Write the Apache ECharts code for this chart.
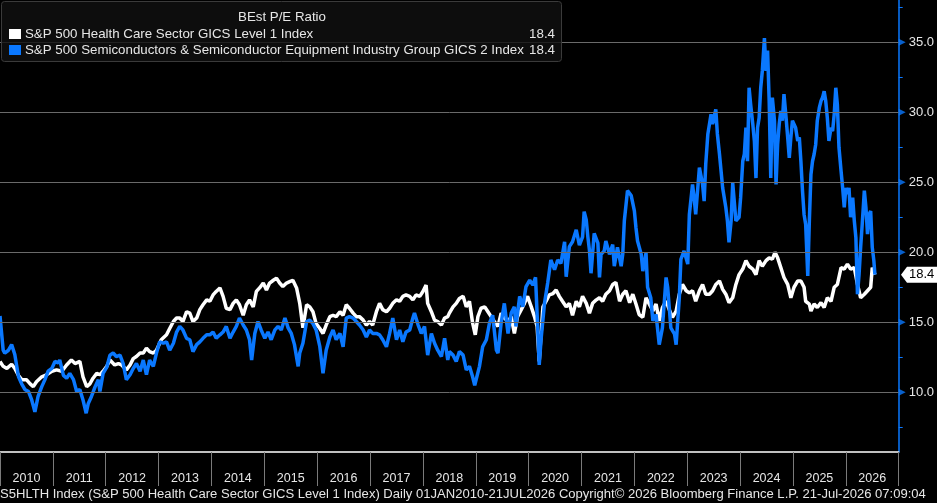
<!DOCTYPE html>
<html><head><meta charset="utf-8">
<script src="https://cdn.jsdelivr.net/npm/echarts@6/dist/echarts.min.js"></script>
<style>html,body{margin:0;padding:0;background:#000;overflow:hidden}#c{width:937px;height:503px}</style>
</head><body><div id="c"></div>
<script>
// ---- DATA ----
const chartTitle = 'BEst P/E Ratio';
const healthName = 'S&P 500 Health Care Sector GICS Level 1 Index';
const semiName = 'S&P 500 Semiconductors & Semiconductor Equipment Industry Group GICS 2 Index';
const footerText = 'S5HLTH Index (S&P 500 Health Care Sector GICS Level 1 Index) Daily 01JAN2010-21JUL2026 Copyright\u00A9 2026 Bloomberg Finance L.P. 21-Jul-2026 07:09:04';

const healthYears = [2010.00,2010.06,2010.13,2010.22,2010.28,2010.35,2010.41,2010.50,2010.57,2010.63,2010.69,2010.79,2010.88,2010.98,2011.07,2011.17,2011.26,2011.35,2011.42,2011.51,2011.57,2011.64,2011.70,2011.76,2011.83,2011.89,2011.95,2012.02,2012.08,2012.17,2012.24,2012.30,2012.39,2012.46,2012.52,2012.58,2012.65,2012.71,2012.77,2012.83,2012.90,2012.96,2013.05,2013.15,2013.21,2013.28,2013.34,2013.40,2013.46,2013.53,2013.59,2013.65,2013.72,2013.78,2013.84,2013.91,2013.97,2014.03,2014.09,2014.16,2014.22,2014.28,2014.35,2014.41,2014.47,2014.53,2014.60,2014.66,2014.72,2014.79,2014.85,2014.91,2014.98,2015.04,2015.10,2015.17,2015.23,2015.29,2015.35,2015.42,2015.48,2015.54,2015.61,2015.67,2015.73,2015.80,2015.86,2015.92,2015.98,2016.05,2016.11,2016.17,2016.24,2016.30,2016.36,2016.43,2016.49,2016.55,2016.61,2016.68,2016.74,2016.80,2016.87,2016.93,2016.99,2017.05,2017.12,2017.18,2017.24,2017.31,2017.37,2017.43,2017.50,2017.56,2017.62,2017.68,2017.75,2017.81,2017.87,2017.94,2018.00,2018.06,2018.09,2018.16,2018.22,2018.28,2018.35,2018.41,2018.47,2018.50,2018.57,2018.63,2018.69,2018.76,2018.82,2018.88,2018.94,2018.99,2019.04,2019.10,2019.17,2019.23,2019.29,2019.35,2019.42,2019.48,2019.54,2019.61,2019.67,2019.73,2019.79,2019.86,2019.92,2019.98,2020.05,2020.11,2020.16,2020.20,2020.27,2020.33,2020.39,2020.46,2020.52,2020.58,2020.64,2020.71,2020.77,2020.83,2020.90,2020.96,2021.02,2021.09,2021.15,2021.21,2021.28,2021.34,2021.40,2021.46,2021.53,2021.59,2021.65,2021.72,2021.78,2021.84,2021.91,2021.97,2022.03,2022.09,2022.16,2022.22,2022.28,2022.35,2022.41,2022.47,2022.53,2022.60,2022.66,2022.72,2022.79,2022.85,2022.91,2022.98,2023.04,2023.10,2023.16,2023.23,2023.29,2023.35,2023.42,2023.48,2023.54,2023.61,2023.67,2023.73,2023.79,2023.86,2023.92,2023.98,2024.05,2024.11,2024.17,2024.24,2024.30,2024.36,2024.42,2024.49,2024.55,2024.61,2024.66,2024.71,2024.77,2024.83,2024.90,2024.96,2025.02,2025.09,2025.15,2025.21,2025.24,2025.31,2025.34,2025.40,2025.46,2025.53,2025.59,2025.65,2025.72,2025.78,2025.84,2025.91,2025.97,2026.03,2026.09,2026.16,2026.22,2026.28,2026.35,2026.41,2026.47,2026.50,2026.55];
const healthValues = [12.2,11.85,11.7,12.0,11.7,11.2,10.9,10.9,10.6,10.4,10.75,11.1,11.25,11.5,11.6,11.5,11.95,12.3,12.05,12.2,11.1,10.4,10.6,11.0,11.35,11.25,11.5,11.85,12.3,11.95,12.05,11.95,11.6,11.95,12.4,12.55,12.8,12.8,13.15,12.9,12.8,13.0,13.75,14.1,14.55,15.05,15.3,15.3,15.05,15.75,15.65,15.05,15.3,15.9,16.25,16.6,16.5,16.95,17.2,17.45,16.85,16.0,15.9,16.35,16.6,16.25,15.5,16.25,16.6,16.1,17.2,17.45,17.8,17.3,17.8,18.0,18.15,17.8,17.55,17.8,17.9,18.0,17.45,16.35,14.6,16.25,16.1,15.75,14.9,14.55,14.2,14.8,15.4,15.5,15.4,15.75,15.5,16.25,16.0,15.65,15.4,15.4,15.15,14.8,15.05,14.8,15.75,16.35,15.9,15.75,16.0,16.35,16.6,16.5,16.85,16.95,16.85,16.6,16.95,16.85,17.2,17.65,16.35,15.75,15.15,15.05,14.8,15.3,15.4,15.65,16.1,16.35,16.7,16.85,16.1,16.5,14.95,14.1,15.4,16.0,16.1,15.75,15.4,15.05,14.7,15.65,15.3,15.05,15.4,14.2,15.4,15.9,16.35,16.85,16.1,15.4,14.7,12.2,16.1,16.5,16.95,17.05,17.3,16.85,16.5,16.1,16.35,15.5,16.5,16.1,16.85,16.35,15.65,16.35,16.6,16.75,16.5,17.0,17.25,17.7,17.85,16.5,17.0,17.25,16.4,17.0,16.3,15.55,15.35,16.75,16.3,15.8,16.3,15.1,16.05,16.5,15.9,15.35,15.8,17.0,17.7,17.25,17.1,17.25,16.5,17.25,17.7,17.0,17.0,17.25,17.7,17.95,17.35,17.0,16.4,16.75,17.7,18.4,18.8,19.4,19.0,18.8,18.4,19.4,19.0,19.4,19.6,19.5,20.0,19.6,18.9,18.2,17.7,16.75,17.5,17.95,17.95,17.5,16.5,16.3,15.8,16.3,16.05,16.4,16.05,16.75,16.5,17.5,17.7,18.9,18.8,19.15,18.8,18.9,17.7,16.75,17.0,17.25,17.5,18.9,18.4];

const semiYears = [2010.00,2010.03,2010.06,2010.09,2010.16,2010.22,2010.28,2010.35,2010.41,2010.47,2010.54,2010.60,2010.66,2010.72,2010.79,2010.85,2010.91,2010.98,2011.04,2011.10,2011.13,2011.20,2011.26,2011.32,2011.39,2011.45,2011.51,2011.57,2011.63,2011.67,2011.73,2011.80,2011.86,2011.89,2011.95,2012.02,2012.08,2012.14,2012.20,2012.27,2012.33,2012.39,2012.46,2012.52,2012.58,2012.65,2012.71,2012.77,2012.83,2012.90,2012.96,2013.02,2013.09,2013.15,2013.21,2013.28,2013.34,2013.40,2013.46,2013.53,2013.59,2013.65,2013.72,2013.78,2013.84,2013.91,2013.97,2014.03,2014.09,2014.16,2014.22,2014.28,2014.35,2014.41,2014.47,2014.53,2014.60,2014.66,2014.72,2014.76,2014.82,2014.88,2014.94,2015.01,2015.07,2015.13,2015.20,2015.26,2015.32,2015.39,2015.45,2015.51,2015.57,2015.64,2015.67,2015.73,2015.80,2015.86,2015.92,2015.98,2016.05,2016.11,2016.17,2016.24,2016.30,2016.36,2016.43,2016.49,2016.55,2016.61,2016.68,2016.74,2016.80,2016.87,2016.93,2016.99,2017.05,2017.12,2017.18,2017.24,2017.31,2017.37,2017.43,2017.50,2017.56,2017.62,2017.68,2017.75,2017.81,2017.84,2017.91,2017.97,2018.03,2018.09,2018.16,2018.22,2018.28,2018.35,2018.41,2018.47,2018.50,2018.57,2018.63,2018.69,2018.76,2018.82,2018.88,2018.94,2018.98,2019.01,2019.07,2019.13,2019.20,2019.26,2019.32,2019.39,2019.42,2019.48,2019.54,2019.61,2019.67,2019.73,2019.76,2019.83,2019.89,2019.95,2020.02,2020.08,2020.13,2020.17,2020.20,2020.24,2020.30,2020.36,2020.42,2020.49,2020.55,2020.61,2020.68,2020.71,2020.77,2020.83,2020.90,2020.96,2021.02,2021.05,2021.09,2021.12,2021.15,2021.18,2021.24,2021.31,2021.34,2021.37,2021.43,2021.46,2021.53,2021.59,2021.62,2021.68,2021.75,2021.78,2021.81,2021.87,2021.94,2022.00,2022.03,2022.06,2022.13,2022.16,2022.22,2022.25,2022.31,2022.35,2022.41,2022.47,2022.53,2022.60,2022.63,2022.66,2022.69,2022.76,2022.79,2022.85,2022.88,2022.94,2023.01,2023.04,2023.10,2023.13,2023.16,2023.23,2023.29,2023.32,2023.35,2023.39,2023.45,2023.48,2023.54,2023.57,2023.61,2023.67,2023.73,2023.76,2023.79,2023.83,2023.86,2023.92,2023.98,2024.01,2024.05,2024.08,2024.11,2024.14,2024.17,2024.20,2024.24,2024.27,2024.30,2024.33,2024.36,2024.39,2024.42,2024.46,2024.49,2024.52,2024.55,2024.58,2024.61,2024.65,2024.68,2024.71,2024.74,2024.77,2024.80,2024.83,2024.87,2024.90,2024.93,2024.96,2024.99,2025.02,2025.05,2025.09,2025.12,2025.15,2025.18,2025.21,2025.24,2025.28,2025.31,2025.34,2025.37,2025.40,2025.43,2025.46,2025.50,2025.53,2025.56,2025.59,2025.62,2025.65,2025.68,2025.72,2025.75,2025.78,2025.81,2025.84,2025.87,2025.91,2025.94,2025.97,2026.00,2026.03,2026.06,2026.09,2026.13,2026.16,2026.19,2026.22,2026.25,2026.28,2026.31,2026.35,2026.38,2026.41,2026.44,2026.47,2026.50,2026.53,2026.55];
const semiValues = [15.45,15.4,13.0,12.8,13.0,13.4,12.7,11.1,10.6,10.2,10.05,9.45,8.6,9.7,10.4,10.9,11.5,11.7,12.2,12.1,12.3,11.2,11.0,11.35,10.9,10.05,10.2,9.45,8.5,9.2,9.7,10.4,10.9,10.05,11.35,11.8,12.65,12.8,12.55,12.65,12.05,10.9,11.25,11.7,12.05,11.5,12.3,11.25,12.3,11.85,12.8,13.6,13.5,13.6,13.0,13.5,14.3,14.7,14.45,13.85,13.75,12.9,13.4,13.6,13.85,14.1,14.1,14.3,13.85,14.1,14.3,14.7,13.85,14.3,14.7,15.3,14.8,14.45,13.75,12.3,14.2,15.05,14.45,13.85,14.3,13.75,14.45,14.7,14.45,15.3,14.6,14.2,13.4,11.85,12.8,13.5,15.05,15.15,14.9,14.45,13.25,11.35,13.0,13.95,14.45,13.75,14.2,13.25,15.3,15.4,15.3,15.05,14.8,14.45,13.95,14.45,14.2,14.2,14.1,13.75,13.25,14.2,15.3,13.75,14.45,13.6,14.3,14.45,15.3,15.65,14.8,14.2,14.7,12.65,14.2,13.5,13.0,12.55,13.85,12.3,12.9,12.65,12.2,12.9,12.65,11.6,11.85,11.1,10.5,10.4,11.85,13.25,13.75,14.95,15.5,13.0,12.8,14.95,16.35,14.2,15.65,16.1,14.7,16.85,16.1,17.55,18.0,17.65,18.2,14.7,11.95,14.0,16.35,17.8,19.45,18.75,19.45,19.2,20.75,18.25,20.4,20.75,21.6,20.5,21.1,22.9,22.3,21.1,20.15,18.5,21.35,20.65,18.2,19.85,20.1,20.8,19.85,20.55,19.0,20.35,19.0,19.85,22.25,24.4,24.05,22.95,21.75,20.8,19.85,18.65,19.95,17.5,16.75,15.1,15.55,13.4,14.6,18.2,17.5,16.05,14.6,14.15,13.4,16.75,19.5,20.1,19.15,22.7,24.85,23.9,22.7,26.05,24.85,23.65,26.3,28.45,29.85,29.15,30.2,28.45,27.0,24.6,23.2,22.25,20.7,22.25,24.95,22.25,22.5,23.9,26.5,27.0,28.9,26.5,31.75,30.55,29.15,27.95,25.3,28.9,29.6,31.75,32.95,35.3,32.95,34.4,30.8,25.3,31.05,29.4,24.85,27.7,29.15,30.1,29.4,31.3,29.6,28.2,26.75,28.2,29.4,29.15,28.9,27.95,28.2,26.5,24.4,22.7,22.0,18.3,22.25,25.55,26.5,27.0,27.7,29.4,30.35,30.8,31.05,31.5,30.8,29.6,27.95,28.9,28.65,29.85,31.75,30.55,27.5,25.8,24.6,23.2,24.6,24.15,24.6,22.5,23.9,22.25,21.05,17.0,18.4,20.35,22.0,24.4,23.2,21.3,22.7,22.95,20.35,19.4,18.4];

const yearLabelValues = [2010.5,2011.5,2012.5,2013.5,2014.5,2015.5,2016.5,2017.5,2018.5,2019.5,2020.5,2021.5,2022.5,2023.5,2024.5,2025.5,2026.5];
const yMajorValues = [10,15,20,25,30,35];
const yMinorValues = [7.5,12.5,17.5,22.5,27.5,32.5,37.5];

// ---- STYLE ----
const BLUE = '#0a78ff';
const FONT = '"Liberation Sans", Arial, sans-serif';
const pair = (xs, ys) => xs.map((x, i) => [x, ys[i]]);

const chart = echarts.init(document.getElementById('c'), null, {renderer: 'canvas'});
chart.setOption({
  animation: false,
  backgroundColor: '#000',
  grid: {left: 0, right: 37, top: 0, bottom: 51, containLabel: false},
  xAxis: {
    type: 'value', min: 2010, max: 2027, interval: 1,
    axisLine: {show: true, lineStyle: {color: '#ffffff', width: 1.5}},
    axisTick: {show: true, length: 34, lineStyle: {color: '#7a7a7a', width: 1}},
    axisLabel: {show: true, customValues: yearLabelValues, formatter: v => String(Math.floor(v)),
      color: '#e6e6e6', fontSize: 12.5, fontFamily: FONT, margin: 20},
    splitLine: {show: false}
  },
  yAxis: {
    type: 'value', position: 'right', min: 5.73, max: 38.02,
    axisLine: {show: true, lineStyle: {color: BLUE, width: 1.5}},
    axisTick: {show: true, customValues: yMinorValues, length: 4, inside: false, lineStyle: {color: BLUE, width: 1}},
    axisLabel: {show: true, customValues: yMajorValues, formatter: v => v.toFixed(1),
      color: '#e6e6e6', fontSize: 13, fontFamily: FONT, margin: 10},
    splitLine: {show: false}
  },
  series: [
    {type: 'line', data: [], silent: true, z: 1,
     markLine: {silent: true, symbol: 'none', label: {show: false}, animation: false,
       lineStyle: {color: '#6a6a6a', type: 'solid', width: 1},
       data: yMajorValues.map(v => ({yAxis: v}))}},
    {name: healthName, type: 'line', data: pair(healthYears, healthValues), showSymbol: false,
     lineStyle: {color: '#ffffff', width: 3.5}, z: 3},
    {name: semiName, type: 'line', data: pair(semiYears, semiValues), showSymbol: false,
     lineStyle: {color: BLUE, width: 3.5}, z: 4},
    {type: 'scatter', data: yMajorValues.map(v => [2027, v]), symbol: 'triangle', symbolRotate: -90,
     symbolSize: [7, 7], symbolOffset: [3.5, 0], clip: false, silent: true, z: 6,
     itemStyle: {color: BLUE}}
  ]
});

// ---- overlays: legend box, footer, last-value tag ----
const lastHealth = healthValues[healthValues.length - 1];
const lastSemi = semiValues[semiValues.length - 1];
const tagY = chart.convertToPixel({yAxisIndex: 0}, lastHealth);
const txt = (x, y, s, opt) => Object.assign({type: 'text', x, y, silent: true,
  style: Object.assign({text: s, fill: '#e6e6e6', font: '13.3px ' + FONT, textVerticalAlign: 'middle'}, opt || {})});
chart.setOption({graphic: [
  {type: 'rect', shape: {x: 1.5, y: 1.5, width: 560, height: 60, r: 3}, silent: true, z: 50,
   style: {fill: 'rgba(16,16,16,0.8)', stroke: '#3a3a3a', lineWidth: 1}},
  Object.assign(txt(282, 17, chartTitle, {textAlign: 'center'}), {z: 51}),
  {type: 'rect', shape: {x: 9, y: 29, width: 12, height: 10}, style: {fill: '#ffffff'}, z: 51, silent: true},
  Object.assign(txt(25, 34, healthName), {z: 51}),
  Object.assign(txt(555, 34, lastHealth.toFixed(1), {textAlign: 'right'}), {z: 51}),
  {type: 'rect', shape: {x: 9, y: 45, width: 12, height: 10}, style: {fill: BLUE}, z: 51, silent: true},
  Object.assign(txt(25, 50.5, semiName), {z: 51}),
  Object.assign(txt(555, 50.5, lastSemi.toFixed(1), {textAlign: 'right'}), {z: 51}),
  Object.assign(txt(0, 494, footerText, {font: '13.05px ' + FONT}), {z: 51}),
  {type: 'polygon', silent: true, z: 52,
   shape: {points: [[901, tagY], [907, tagY - 8], [937, tagY - 8], [937, tagY + 8], [907, tagY + 8]]},
   style: {fill: '#ffffff'}},
  Object.assign(txt(909, tagY, lastHealth.toFixed(1), {fill: '#000000', font: '13px ' + FONT}), {z: 53})
]});
</script>
</body></html>
